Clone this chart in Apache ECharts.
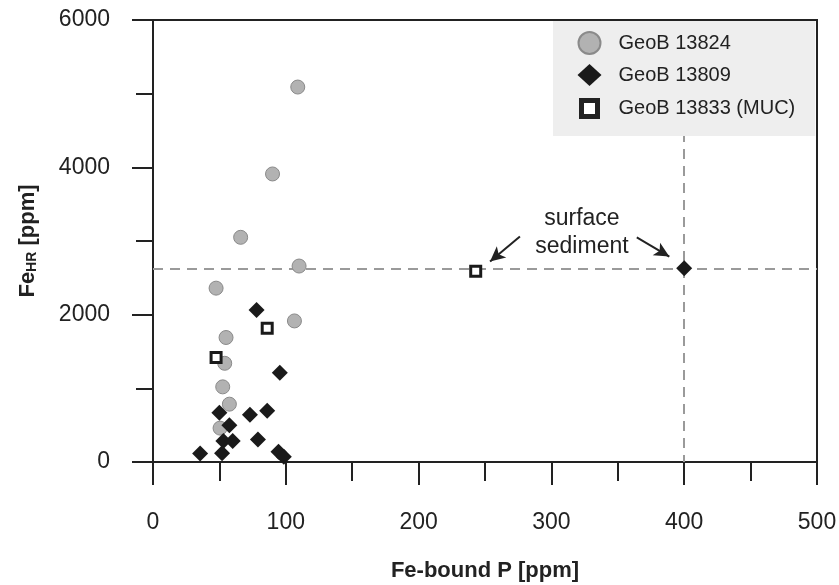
<!DOCTYPE html>
<html>
<head>
<meta charset="utf-8">
<script src="https://cdn.jsdelivr.net/npm/echarts@6/dist/echarts.min.js"></script>
<style>
  html, body { margin: 0; padding: 0; background: #fff; }
  #chart { width: 839px; height: 585px; }
</style>
</head>
<body>
<div id="chart"></div>
<script>
// Fe-bound P vs. highly reactive Fe for three cores
const seriesNames = ['GeoB 13824', 'GeoB 13809', 'GeoB 13833 (MUC)'];

// [Fe-bound P (ppm), Fe_HR (ppm)]
const geoB13824 = [
  [109, 5090], [90, 3910], [66, 3050], [110, 2660], [47.5, 2360],
  [106.5, 1915], [55, 1690], [54, 1340], [52.5, 1020], [57.5, 785], [50.5, 460]
];
const geoB13809 = [
  [78, 2065], [95.5, 1210], [50, 670], [86, 695], [73, 640], [57.5, 500],
  [53, 285], [60, 285], [79, 305], [35.5, 115], [52, 120], [94.5, 140],
  [98.5, 70], [400, 2630]
];
const geoB13833 = [[47.5, 1420], [86, 1815], [243, 2590]];

// surface sediment reference lines
const surfaceFeHR = 2630;
const surfaceP = 400;
const surfaceLineTop = 4480;

// annotation: label anchor and arrows [from, to]
const noteText = 'surface\nsediment';
const noteAnchor = [323, 3111];
const noteArrows = [
  [[276.3, 3061], [253.8, 2721]],
  [[364.3, 3048], [388.8, 2789]]
];

const xTicks = { min: 0, max: 500, interval: 100 };
const yTicks = { min: 0, max: 6000, interval: 2000 };

const FONT = "'Liberation Sans', Arial, Helvetica, sans-serif";
const INK = '#222';
const DASH = '#9a9a9a';

const chart = echarts.init(document.getElementById('chart'), null, { renderer: 'canvas' });

chart.setOption({
  animation: false,
  backgroundColor: '#fff',
  textStyle: { fontFamily: FONT, color: INK },
  grid: {
    left: 153, right: 22, top: 20, bottom: 123,
    show: true, borderColor: INK, borderWidth: 2, backgroundColor: 'transparent',
    containLabel: false, outerBoundsMode: 'none'
  },
  legend: {
    orient: 'vertical',
    left: 553, top: 21,
    padding: [10, 20, 14, 22],
    backgroundColor: '#eeeeee',
    borderWidth: 0,
    itemWidth: 24, itemHeight: 22, itemGap: 9,
    selectedMode: false,
    textStyle: { fontFamily: FONT, fontSize: 20, color: INK, padding: [0, 0, 0, 12] },
    data: [
      { name: seriesNames[0], icon: 'circle' },
      { name: seriesNames[1], icon: 'diamond' },
      {
        name: seriesNames[2],
        icon: 'path://M0,0M24,22M4,3h16v16h-16z',
        itemStyle: { color: '#fff', borderColor: INK, borderWidth: 5 }
      }
    ]
  },
  xAxis: {
    type: 'value',
    min: xTicks.min, max: xTicks.max, interval: xTicks.interval,
    name: 'Fe-bound P [ppm]',
    nameLocation: 'middle', nameGap: 98,
    nameTextStyle: { fontFamily: FONT, fontSize: 22, fontWeight: 'bold', color: INK },
    axisLine: { show: true, onZero: false, lineStyle: { color: INK, width: 2 } },
    axisTick: { show: true, inside: false, length: 23, lineStyle: { color: INK, width: 2 } },
    minorTick: { show: true, splitNumber: 2, length: 19, lineStyle: { color: INK, width: 2 } },
    axisLabel: { fontFamily: FONT, fontSize: 23, color: INK, margin: 49, formatter: v => String(v) },
    splitLine: { show: false },
    minorSplitLine: { show: false }
  },
  yAxis: {
    type: 'value',
    min: yTicks.min, max: yTicks.max, interval: yTicks.interval,
    name: '{a|Fe}{s|HR}{a| [ppm]}',
    nameLocation: 'middle', nameGap: 114, nameRotate: 90,
    nameTextStyle: {
      color: INK,
      rich: {
        a: { fontFamily: FONT, fontSize: 22, fontWeight: 'bold', color: INK },
        s: { fontFamily: FONT, fontSize: 14, fontWeight: 'bold', color: INK, verticalAlign: 'bottom', padding: [8, 0, 0, 0] }
      }
    },
    axisLine: { show: true, onZero: false, lineStyle: { color: INK, width: 2 } },
    axisTick: { show: true, inside: false, length: 21, lineStyle: { color: INK, width: 2 } },
    minorTick: { show: true, splitNumber: 2, length: 17, lineStyle: { color: INK, width: 2 } },
    axisLabel: { fontFamily: FONT, fontSize: 23, color: INK, margin: 43, formatter: v => String(v) },
    splitLine: { show: false },
    minorSplitLine: { show: false }
  },
  series: [
    {
      name: seriesNames[0],
      type: 'scatter',
      z: 2,
      symbol: 'circle',
      symbolSize: 14,
      itemStyle: { color: '#b2b2b2', borderColor: '#8a8a8a', borderWidth: 1, opacity: 1 },
      emphasis: { disabled: true },
      data: geoB13824,
      markLine: {
        z: 1,
        silent: true,
        symbol: ['none', 'none'],
        label: { show: false },
        lineStyle: { color: DASH, width: 2, type: [10, 7] },
        emphasis: { disabled: true },
        data: [
          { yAxis: surfaceFeHR },
          [{ coord: [surfaceP, surfaceLineTop] }, { coord: [surfaceP, 0] }]
        ]
      }
    },
    {
      name: seriesNames[1],
      type: 'scatter',
      z: 3,
      symbol: 'diamond',
      symbolSize: [16, 16],
      itemStyle: { color: '#1a1a1a', opacity: 1 },
      emphasis: { disabled: true },
      data: geoB13809,
      markPoint: {
        silent: true,
        symbol: 'circle',
        symbolSize: 0,
        itemStyle: { color: 'transparent' },
        label: {
          show: true, position: 'inside', formatter: noteText,
          fontFamily: FONT, fontSize: 23, lineHeight: 28, color: INK, align: 'center'
        },
        data: [{ coord: noteAnchor }]
      },
      markLine: {
        silent: true,
        symbol: ['none', 'arrow'],
        symbolSize: [11, 15],
        label: { show: false },
        lineStyle: { color: INK, width: 2, type: 'solid' },
        emphasis: { disabled: true },
        data: noteArrows.map(a => [{ coord: a[0] }, { coord: a[1] }])
      }
    },
    {
      name: seriesNames[2],
      type: 'scatter',
      z: 4,
      symbol: 'rect',
      symbolSize: 10,
      itemStyle: { color: '#fff', borderColor: '#1a1a1a', borderWidth: 3, opacity: 1 },
      emphasis: { disabled: true },
      data: geoB13833
    }
  ]
});
</script>
</body>
</html>
